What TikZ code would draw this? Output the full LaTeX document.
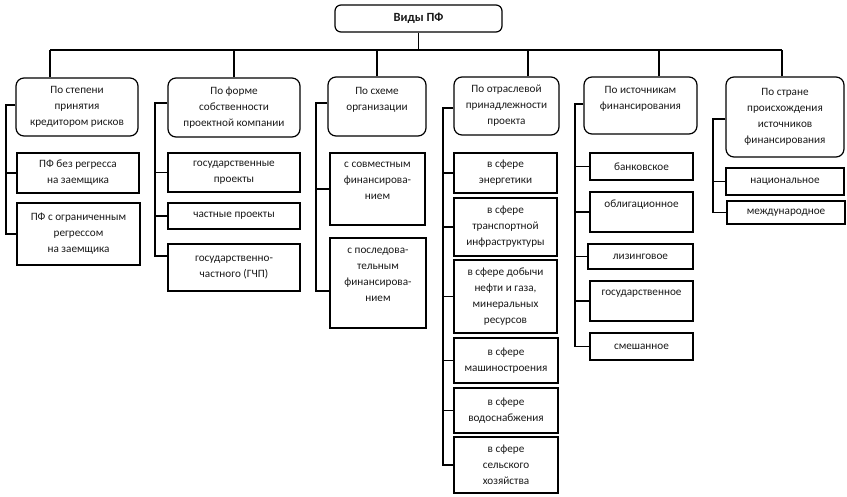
\documentclass[tikz,border=0pt]{standalone}
\usepackage{fontspec}
\setmainfont{Carlito}
\begin{document}
\begin{tikzpicture}[x=1pt,y=-1pt,
  every node/.style={font=\fontsize{11.2}{16}\selectfont, align=center, inner sep=0pt, text=black!90},
  cat/.style={draw=black, rounded corners=8pt, line width=1.2pt},
  kid/.style={draw=black, line width=1.2pt},
  conn/.style={draw=black, line width=1.1pt}]
\useasboundingbox (0,0) rectangle (847,496);

% top
\node[cat, rounded corners=6pt, minimum width=167pt, minimum height=27pt, font=\fontsize{12.5}{16}\selectfont\bfseries] (top) at (418.5,18.5) {Виды ПФ};

% categories
\node[cat, minimum width=122pt, minimum height=58pt] (c1) at (77,107) {По степени\\принятия\\кредитором рисков};
\node[cat, minimum width=132pt, minimum height=59pt] (c2) at (234,107.5) {По форме\\собственности\\проектной компании};
\node[cat, minimum width=98pt, minimum height=59pt] (c3) at (377,106.5) {По схеме\\организации\\\mbox{}};
\node[cat, minimum width=105pt, minimum height=58pt] (c4) at (506.5,106) {По отраслевой\\принадлежности\\проекта};
\node[cat, minimum width=113pt, minimum height=57pt] (c5) at (640.5,105.5) {По источникам\\финансирования\\\mbox{}};
\node[cat, minimum width=118pt, minimum height=80pt] (c6) at (785,117) {По стране\\происхождения\\источников\\финансирования};

% children 1
\node[kid, minimum width=122pt, minimum height=40pt] (k11) at (78,173) {ПФ без регресса\\на заемщика};
\node[kid, minimum width=123pt, minimum height=62pt] (k12) at (78.5,234) {ПФ с ограниченным\\регрессом\\на заемщика};
% children 2
\node[kid, minimum width=132pt, minimum height=39pt] (k21) at (234,172.5) {государственные\\проекты};
\node[kid, minimum width=132pt, minimum height=26pt] (k22) at (234,216) {частные проекты};
\node[kid, minimum width=132pt, minimum height=47pt] (k23) at (234,267.5) {государственно-\\частного (ГЧП)};
% children 3
\node[kid, minimum width=95pt, minimum height=72pt] (k31) at (377.5,189) {с совместным\\финансирова-\\нием\\\mbox{}};
\node[kid, minimum width=96pt, minimum height=90pt] (k32) at (378,283) {с последова-\\тельным\\финансирова-\\нием\\\mbox{}};
% children 4
\node[kid, minimum width=103pt, minimum height=40pt] (k41) at (505.5,173) {в сфере\\энергетики};
\node[kid, minimum width=103pt, minimum height=58pt] (k42) at (505.5,227) {в сфере\\транспортной\\инфраструктуры};
\node[kid, minimum width=103pt, minimum height=73pt] (k43) at (505.5,296.5) {в сфере добычи\\нефти и газа,\\минеральных\\ресурсов};
\node[kid, minimum width=104pt, minimum height=45pt] (k44) at (506,360.5) {в сфере\\машиностроения};
\node[kid, minimum width=104pt, minimum height=45pt] (k45) at (506,410.5) {в сфере\\водоснабжения};
\node[kid, minimum width=104pt, minimum height=56pt] (k46) at (506,465) {в сфере\\сельского\\хозяйства};
% children 5
\node[kid, minimum width=103pt, minimum height=27pt] (k51) at (641.5,166.5) {банковское};
\node[kid, minimum width=103pt, minimum height=40pt] (k52) at (641.5,212) {облигационное\\\mbox{}};
\node[kid, minimum width=105pt, minimum height=25pt] (k53) at (640.5,256.5) {лизинговое};
\node[kid, minimum width=103pt, minimum height=40pt] (k54) at (641.5,301) {государственное\\\mbox{}};
\node[kid, minimum width=103pt, minimum height=27pt] (k55) at (641.5,346.5) {смешанное};
% children 6
\node[kid, minimum width=118pt, minimum height=27pt] (k61) at (785,181.5) {национальное};
\node[kid, minimum width=118pt, minimum height=23pt] (k62) at (786,212.5) {международное};

% bus
\coordinate (busL) at (50,50);
\coordinate (busR) at (782,50);
\draw[conn] (top.south) -- (top.south |- busL);
\draw[conn] (busL) -- (busR);
\draw[conn] (c1.north -| busL) -- (busL);
\draw[conn] (c2.north) -- (c2.north |- busL);
\draw[conn] (c3.north) -- (c3.north |- busL);
\draw[conn] (c4.north -| 528,0) -- (528,50);
\draw[conn] (c5.north -| 659,0) -- (659,50);
\draw[conn] (c6.north -| busR) -- (busR);

% brackets
\draw[conn] (c1.west |- 0,105) -| (k12.west -| 6,0) -- (k12.west);
\draw[conn] (k11.west -| 6,0) -- (k11.west);

\draw[conn] (c2.west |- 0,103) -| (155,256) -- (k23.west |- 0,256);
\draw[conn] (k21.west -| 155,0) -- (k21.west);
\draw[conn] (k22.west -| 155,0) -- (k22.west);

\draw[conn] (c3.west |- 0,103) -| (316,291) -- (k32.west |- 0,291);
\draw[conn] (k31.west -| 316,0) -- (k31.west);

\draw[conn] (c4.west |- 0,108) -| (k46.west -| 443,0) -- (k46.west);
\foreach \k in {k41,k42,k43,k44,k45}
  \draw[conn] (\k.west -| 443,0) -- (\k.west);

\draw[conn] (c5.west |- 0,104) -| (k55.west -| 575,0) -- (k55.west);
\foreach \k in {k51,k52,k53,k54}
  \draw[conn] (\k.west -| 575,0) -- (\k.west);

\draw[conn] (c6.west |- 0,119) -| (k62.west -| 713,0) -- (k62.west);
\draw[conn] (k61.west -| 713,0) -- (k61.west);
\end{tikzpicture}
\end{document}
